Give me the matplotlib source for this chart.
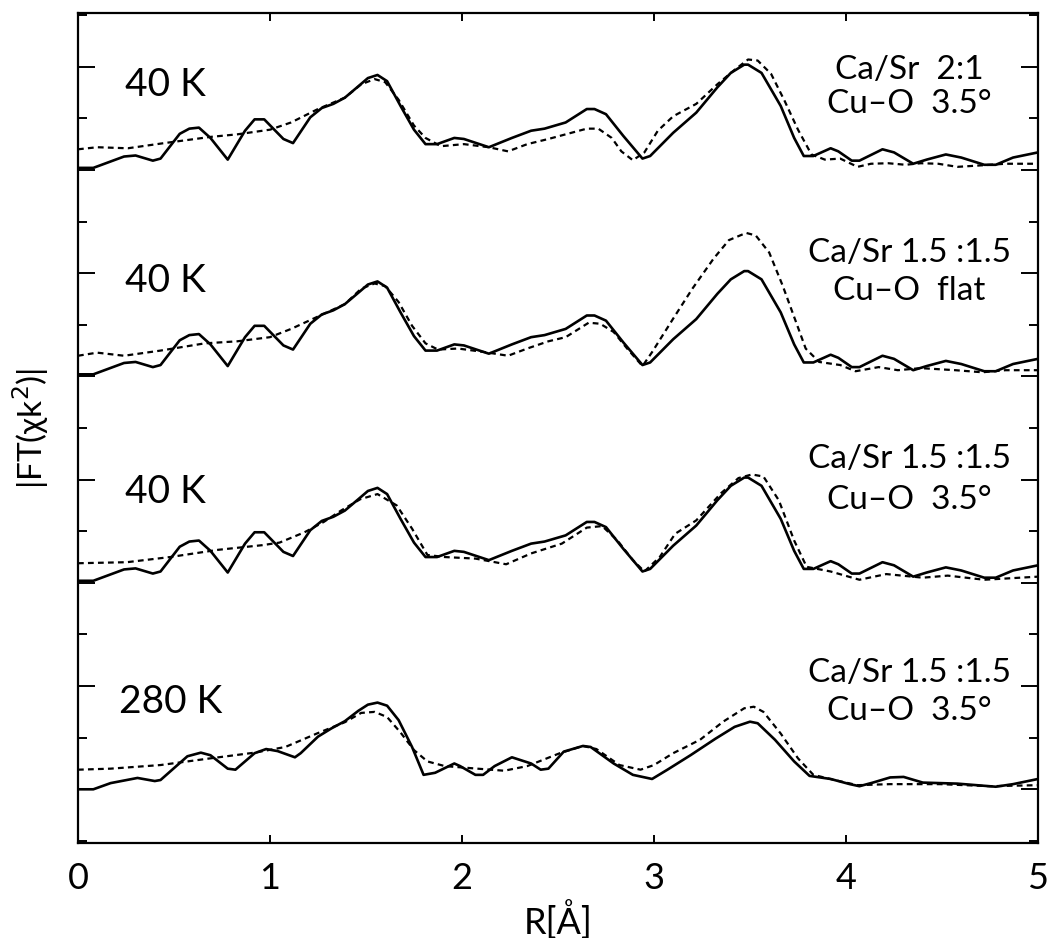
import matplotlib
matplotlib.use("Agg")
import matplotlib.pyplot as plt
from matplotlib.ticker import MultipleLocator

plt.rcParams['font.family'] = ['Lato', 'DejaVu Sans']

# 40 K measured |FT| (same data in the three upper panels)
r_40k = [0, 0.08, 0.24, 0.30, 0.39, 0.43, 0.53, 0.58, 0.63, 0.69,
         0.78, 0.87, 0.92, 0.97, 1.07, 1.12, 1.21, 1.27, 1.33, 1.39,
         1.46, 1.51, 1.56, 1.61, 1.68, 1.75, 1.81, 1.87, 1.96, 2.01,
         2.14, 2.26, 2.36, 2.43, 2.54, 2.65, 2.69, 2.75, 2.84, 2.94,
         2.98, 3.10, 3.22, 3.33, 3.40, 3.47, 3.49, 3.56, 3.66, 3.73,
         3.78, 3.83, 3.92, 3.96, 4.03, 4.07, 4.19, 4.25, 4.35, 4.42,
         4.52, 4.60, 4.72, 4.78, 4.87, 5.00]
ft_40k = [0.02, 0.02, 0.13, 0.14, 0.09, 0.11, 0.35, 0.40, 0.41, 0.31,
          0.10, 0.38, 0.49, 0.49, 0.30, 0.26, 0.51, 0.60, 0.64, 0.70,
          0.81, 0.89, 0.92, 0.86, 0.62, 0.39, 0.25, 0.25, 0.31, 0.30,
          0.22, 0.31, 0.38, 0.40, 0.46, 0.59, 0.59, 0.54, 0.33, 0.11,
          0.135, 0.36, 0.555, 0.80, 0.94, 1.02, 1.02, 0.94, 0.62, 0.31,
          0.135, 0.135, 0.21, 0.18, 0.09, 0.09, 0.20, 0.17, 0.06, 0.10,
          0.15, 0.12, 0.05, 0.05, 0.12, 0.17]

# 280 K measured
r_280k = [0, 0.08, 0.17, 0.31, 0.40, 0.43, 0.57, 0.64, 0.69, 0.78,
          0.82, 0.92, 0.98, 1.04, 1.13, 1.16, 1.25, 1.32, 1.39, 1.46,
          1.51, 1.56, 1.61, 1.67, 1.74, 1.80, 1.86, 1.96, 1.99, 2.07,
          2.11, 2.17, 2.26, 2.36, 2.41, 2.45, 2.53, 2.63, 2.67, 2.79,
          2.89, 2.99, 3.07, 3.19, 3.32, 3.42, 3.50, 3.54, 3.63, 3.73,
          3.81, 3.92, 4.02, 4.07, 4.14, 4.23, 4.30, 4.40, 4.58, 4.78,
          4.87, 5.00]
ft_280k = [0.0, 0.0, 0.06, 0.11, 0.08, 0.09, 0.32, 0.355, 0.33, 0.20,
           0.19, 0.35, 0.39, 0.37, 0.31, 0.35, 0.51, 0.59, 0.66, 0.76,
           0.82, 0.84, 0.81, 0.67, 0.41, 0.14, 0.16, 0.25, 0.225, 0.14,
           0.14, 0.225, 0.31, 0.25, 0.19, 0.20, 0.365, 0.42, 0.41, 0.25,
           0.14, 0.10, 0.19, 0.33, 0.49, 0.605, 0.655, 0.64, 0.48, 0.27,
           0.13, 0.10, 0.05, 0.03, 0.065, 0.115, 0.12, 0.065, 0.055, 0.025,
           0.05, 0.10]

# simulations (dashed)
r_sim1 = [0, 0.10, 0.26, 0.43, 0.61, 0.69, 0.83, 1.00, 1.11, 1.25,
          1.39, 1.475, 1.545, 1.60, 1.67, 1.75, 1.81, 1.89, 2.01, 2.14,
          2.24, 2.34, 2.45, 2.54, 2.65, 2.71, 2.78, 2.83, 2.89, 2.95,
          3.02, 3.10, 3.22, 3.33, 3.42, 3.49, 3.54, 3.61, 3.68, 3.75,
          3.82, 3.89, 3.97, 4.06, 4.13, 4.22, 4.31, 4.39, 4.48, 4.58,
          4.71, 4.83, 5.00]
ft_sim1 = [0.20, 0.22, 0.21, 0.255, 0.30, 0.32, 0.345, 0.39, 0.46, 0.59,
           0.70, 0.83, 0.88, 0.85, 0.68, 0.43, 0.31, 0.23, 0.25, 0.22,
           0.18, 0.25, 0.30, 0.345, 0.40, 0.40, 0.31, 0.18, 0.094, 0.17,
           0.38, 0.52, 0.64, 0.83, 0.97, 1.07, 1.06, 0.93, 0.67, 0.39,
           0.15, 0.10, 0.11, 0.03, 0.06, 0.065, 0.05, 0.065, 0.06, 0.03,
           0.045, 0.06, 0.06]

r_sim2 = [0, 0.10, 0.24, 0.43, 0.66, 0.83, 1.00, 1.11, 1.25, 1.39,
          1.475, 1.545, 1.60, 1.67, 1.74, 1.81, 1.875, 1.98, 2.12, 2.24,
          2.34, 2.45, 2.54, 2.66, 2.72, 2.79, 2.86, 2.94, 2.99, 3.10,
          3.20, 3.31, 3.39, 3.48, 3.53, 3.60, 3.67, 3.74, 3.79, 3.86,
          3.97, 4.05, 4.17, 4.27, 4.39, 4.57, 4.71, 4.83, 5.00]
ft_sim2 = [0.20, 0.23, 0.20, 0.25, 0.32, 0.34, 0.38, 0.46, 0.58, 0.70,
           0.85, 0.90, 0.875, 0.72, 0.49, 0.32, 0.26, 0.27, 0.235, 0.20,
           0.27, 0.34, 0.38, 0.52, 0.51, 0.43, 0.27, 0.10, 0.235, 0.56,
           0.85, 1.14, 1.32, 1.39, 1.365, 1.20, 0.88, 0.525, 0.27, 0.14,
           0.11, 0.05, 0.09, 0.06, 0.08, 0.06, 0.04, 0.06, 0.06]

r_sim3 = [0, 0.255, 0.48, 0.73, 0.96, 1.05, 1.18, 1.28, 1.37, 1.47,
          1.56, 1.66, 1.74, 1.82, 1.91, 2.07, 2.23, 2.36, 2.52, 2.65,
          2.73, 2.81, 2.89, 2.95, 3.03, 3.11, 3.22, 3.35, 3.44, 3.51,
          3.57, 3.65, 3.73, 3.795, 3.92, 4.07, 4.21, 4.40, 4.53, 4.72,
          5.00]
ft_sim3 = [0.19, 0.20, 0.25, 0.32, 0.365, 0.39, 0.49, 0.59, 0.70, 0.81,
           0.86, 0.75, 0.525, 0.27, 0.25, 0.235, 0.18, 0.285, 0.38, 0.535,
           0.55, 0.41, 0.22, 0.11, 0.25, 0.475, 0.605, 0.87, 1.015, 1.05,
           1.03, 0.80, 0.41, 0.155, 0.11, 0.03, 0.085, 0.05, 0.07, 0.03,
           0.06]

r_sim4 = [0, 0.17, 0.43, 0.69, 0.92, 1.08, 1.25, 1.39, 1.475, 1.545,
          1.61, 1.68, 1.75, 1.82, 1.91, 2.08, 2.22, 2.34, 2.51, 2.63,
          2.70, 2.82, 2.93, 3.00, 3.10, 3.24, 3.36, 3.47, 3.52, 3.57,
          3.66, 3.75, 3.83, 3.94, 4.06, 4.23, 4.49, 4.75, 5.00]
ft_sim4 = [0.19, 0.20, 0.235, 0.30, 0.355, 0.41, 0.545, 0.65, 0.74, 0.75,
           0.70, 0.55, 0.38, 0.27, 0.225, 0.20, 0.18, 0.225, 0.35, 0.42,
           0.39, 0.235, 0.19, 0.235, 0.35, 0.48, 0.655, 0.785, 0.80, 0.75,
           0.54, 0.30, 0.14, 0.09, 0.04, 0.05, 0.05, 0.03, 0.04]

offsets = [6, 4, 2, 0]
temps = ["40 K", "40 K", "40 K", "280 K"]
ratio_labels = ["Ca/Sr  2:1", "Ca/Sr 1.5 :1.5", "Ca/Sr 1.5 :1.5", "Ca/Sr 1.5 :1.5"]
tilt_labels = ["Cu\u2013O  3.5°", "Cu\u2013O  flat", "Cu\u2013O  3.5°", "Cu\u2013O  3.5°"]

panels = [
    (r_40k, ft_40k, r_sim1, ft_sim1),
    (r_40k, ft_40k, r_sim2, ft_sim2),
    (r_40k, ft_40k, r_sim3, ft_sim3),
    (r_280k, ft_280k, r_sim4, ft_sim4),
]

fig = plt.figure(figsize=(10.55, 9.38), dpi=100)
ax = fig.add_axes([0.0739, 0.1013, 0.91, 0.8848])

temp_dy = [0.72, 0.82, 0.77, 0.74]
temp_x = [0.245, 0.245, 0.245, 0.215]
ratio_dy = [0.88, 1.11, 1.11, 1.04]
tilt_dy = [0.55, 0.74, 0.72, 0.67]

for i, (rm, fm, rs, fs) in enumerate(panels):
    off = offsets[i]
    ax.plot(rm, [v + off for v in fm], color='black', lw=1.9)
    ax.plot(rs, [v + off for v in fs], color='black', lw=1.6, ls=(0, (2.6, 1.9)))
    ax.text(temp_x[i], off + temp_dy[i], temps[i], fontsize=28, ha='left', va='baseline')
    ax.text(4.33, off + ratio_dy[i], ratio_labels[i], fontsize=24, ha='center', va='baseline')
    ax.text(4.33, off + tilt_dy[i], tilt_labels[i], fontsize=24, ha='center', va='baseline')

ax.set_xlim(0, 5)
ax.set_ylim(-0.52, 7.52)
ax.xaxis.set_major_locator(MultipleLocator(1))
ax.yaxis.set_major_locator(MultipleLocator(1))
ax.yaxis.set_minor_locator(MultipleLocator(0.5))
ax.set_yticklabels([])
ax.tick_params(axis='x', which='major', direction='in', length=6, width=1.4,
               top=True, labelsize=26, pad=14)
ax.tick_params(axis='y', which='major', direction='in', length=12, width=1.4,
               right=True, labelleft=False)
ax.tick_params(axis='y', which='minor', direction='in', length=6.5, width=1.4,
               right=True)
for s in ax.spines.values():
    s.set_linewidth(1.6)

ax.set_xlabel("R[Å]", fontsize=26, labelpad=3)
ax.set_ylabel("|FT(χk$^2$)|", fontsize=24, labelpad=16)

fig.savefig("out.png", dpi=100)
